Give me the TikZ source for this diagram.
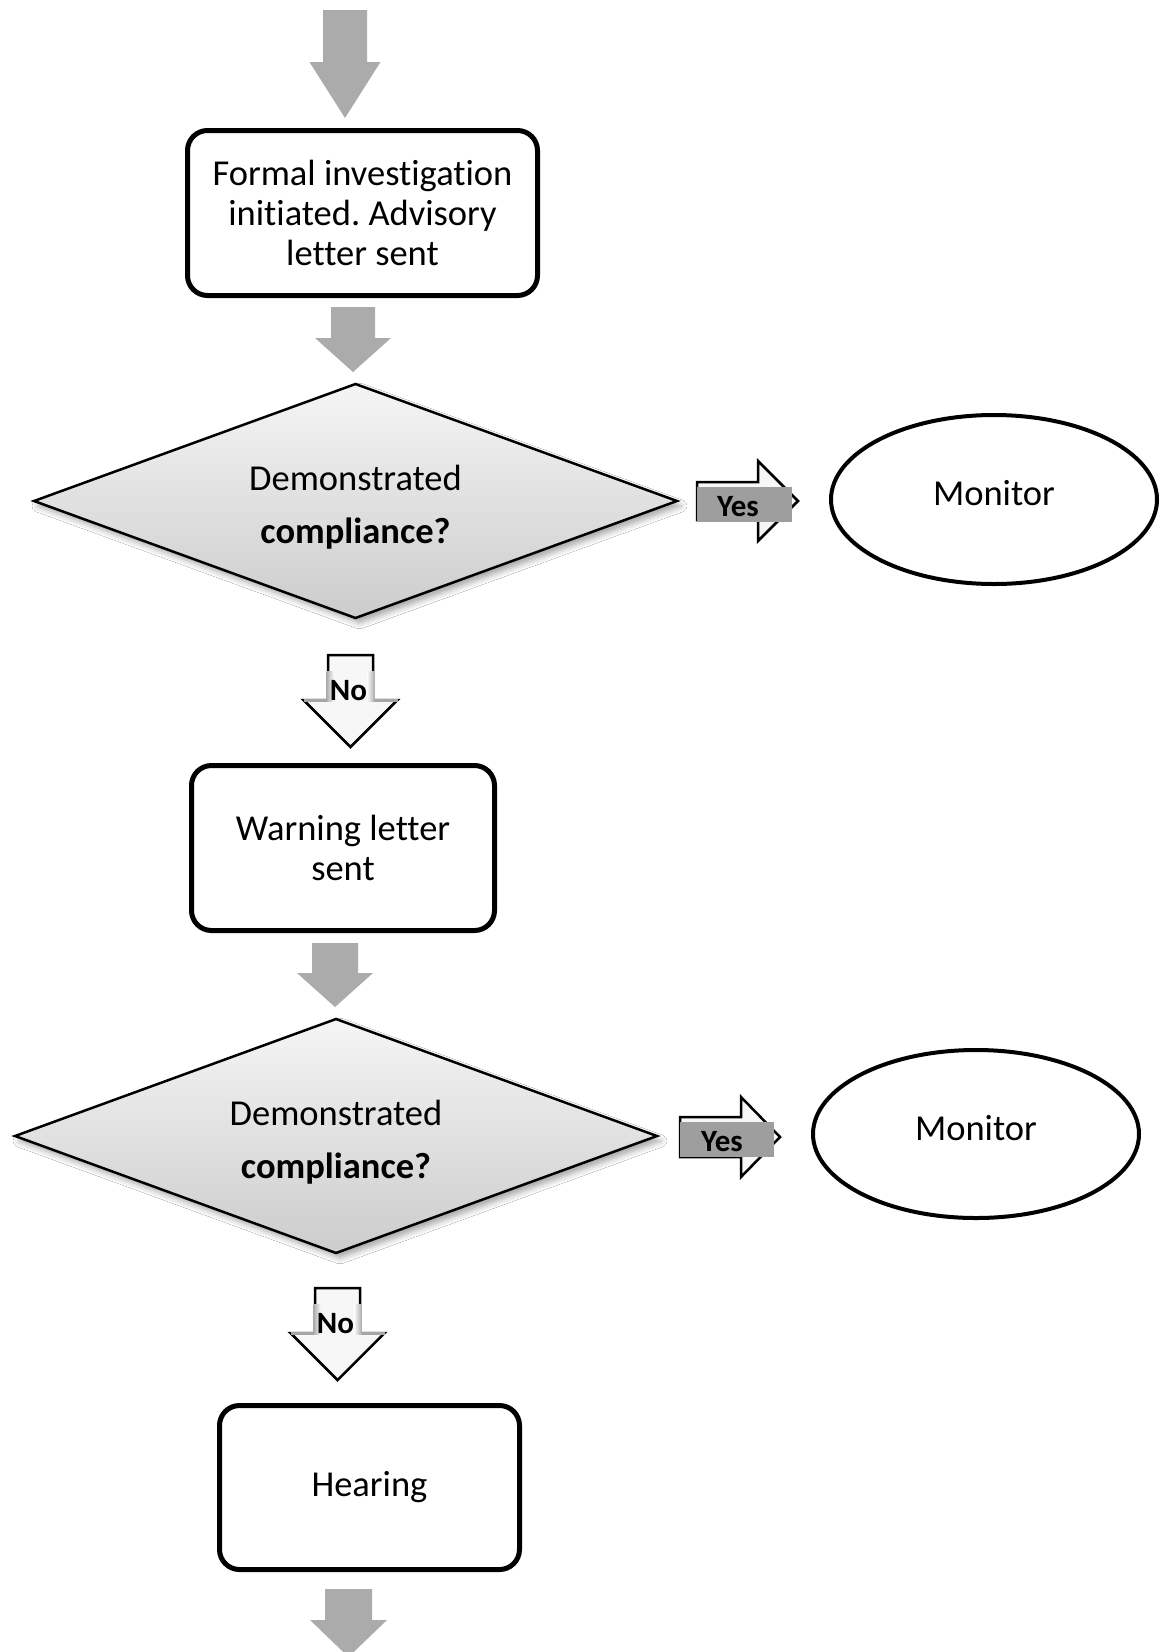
\documentclass[tikz,border=0pt]{standalone}
\usepackage{fontspec}
\setmainfont{Carlito}[Ligatures=NoCommon]
\frenchspacing
\usetikzlibrary{shapes.geometric,shadows.blur}

% block arrow pointing down: centre x, top y, shaft half width, head start y, head half width, tip y
\newcommand\flowdown[6]{({#1-#3},#2) -- ({#1+#3},#2) -- ({#1+#3},#4) -- ({#1+#5},#4) -- (#1,#6) -- ({#1-#5},#4) -- ({#1-#3},#4) -- cycle}
% block arrow pointing right: left x, centre y, shaft half height, head base x, head half height, tip x
\newcommand\flowright[6]{(#1,{#2-#3}) -- (#4,{#2-#3}) -- (#4,{#2-#5}) -- (#6,#2) -- (#4,{#2+#5}) -- (#4,{#2+#3}) -- (#1,{#2+#3}) -- cycle}

\begin{document}
\begin{tikzpicture}[x=1pt,y=-1pt,
  stepbox/.style={draw, line width=5pt, rounded corners=20pt, fill=white, align=center,
    inner sep=0pt, font=\fontsize{36.5}{40}\selectfont},
  decision/.style={diamond, aspect=2.75, draw, line width=2.5pt, top color=gray!8, bottom color=gray!40,
    inner sep=0pt,
    blur shadow={shadow xshift=4pt, shadow yshift=-5pt, shadow blur radius=6pt, shadow opacity=35}},
  question/.style={align=center, inner sep=0pt, font=\fontsize{36.5}{53}\selectfont},
  endpoint/.style={ellipse, draw, line width=4pt, fill=white, inner sep=0pt},
  outcome/.style={font=\fontsize{36.5}{40}\selectfont, inner sep=0pt},
  flowfill/.style={fill=black!33},
  answer/.style={fill=gray!6, draw=black, line width=2.5pt, line join=miter},
  tag/.style={fill=black!38},
  tagtext/.style={font=\bfseries\fontsize{31}{33}\selectfont, inner sep=0pt}]

\useasboundingbox (0,0) rectangle (1165,1652);
\fill[white] (0,0) rectangle (1165,1652);

% process steps
\node[stepbox, minimum width=350pt, minimum height=165pt] (formal) at (362.5,213)
  {Formal investigation\\initiated. Advisory\\letter sent};
\node[stepbox, minimum width=303pt, minimum height=165pt] (warning) at (343,848)
  {Warning letter\\sent};
\node[stepbox, minimum width=300pt, minimum height=164pt] (hearing) at (369.5,1487.5)
  {Hearing};

% decisions
\node[decision, minimum width=644pt, minimum height=235pt] (dec1) at (355.5,501) {};
\node[question, yshift=-6pt] (q1) at (dec1.center) {Demonstrated\\\textbf{compliance?}};
\node[decision, minimum width=643pt, minimum height=235pt] (dec2) at (336,1136) {};
\node[question, yshift=-6pt] (q2) at (dec2.center) {Demonstrated\\\textbf{compliance?}};

% outcomes
\node[endpoint, minimum width=326pt, minimum height=169pt] (mon1) at (994,499.5) {};
\node[outcome, yshift=6pt] (mon1t) at (mon1.center) {Monitor};
\node[endpoint, minimum width=326pt, minimum height=168pt] (mon2) at (976,1134) {};
\node[outcome, yshift=6pt] (mon2t) at (mon2.center) {Monitor};

% flow arrows between steps
\fill[flowfill] \flowdown{345}{10}{22}{62}{35.5}{118};
\fill[flowfill] \flowdown{353}{307}{22}{338}{38}{372};
\fill[flowfill] \flowdown{335}{943}{23}{973}{38}{1007};
\fill[flowfill] \flowdown{348.5}{1589}{23.5}{1620}{38.5}{1657};

% "No" arrows
\foreach \cx/\top/\hs/\tip/\ty [count=\i] in {350.5/655/700/747/691, 337.5/1288/1333/1380/1324} {
  \filldraw[answer] \flowdown{\cx}{\top}{22.5}{\hs}{47}{\tip};
  \shade[left color=gray!65, right color=gray!6] ({\cx-24},{\top+16}) rectangle ({\cx-17},{\hs+1});
  \shade[left color=gray!6, right color=gray!65] ({\cx+17},{\top+16}) rectangle ({\cx+24},{\hs+1});
  \draw[gray!70, line width=3pt] ({\cx-47},\hs) -- ({\cx-24},\hs);
  \draw[gray!70, line width=3pt] ({\cx+24},\hs) -- ({\cx+47},\hs);
  \node[tagtext] (no\i) at ({\cx-2},\ty) {No};
}

% "Yes" arrows
\filldraw[answer] \flowright{697}{501}{19}{758}{40}{798};
\fill[tag] (697,487) rectangle (792,522);
\node[tagtext] (yes1) at (738,507) {Yes};

\filldraw[answer] \flowright{680}{1137}{20}{741}{40}{780};
\fill[tag] (680,1122) rectangle (774,1157);
\node[tagtext] (yes2) at (722,1142) {Yes};

\end{tikzpicture}
\end{document}
